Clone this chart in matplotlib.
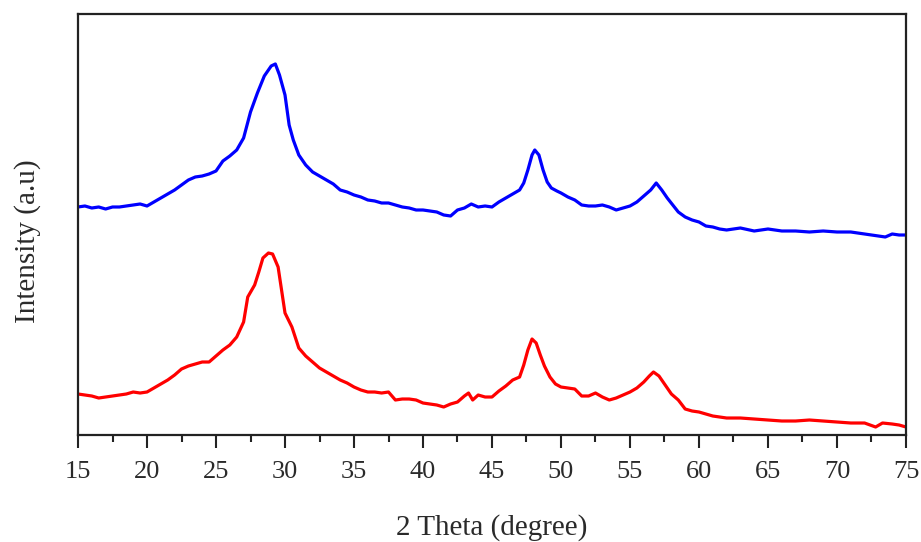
import matplotlib
matplotlib.use("Agg")
import matplotlib.pyplot as plt
from matplotlib.ticker import MultipleLocator

plt.rcParams['font.family'] = ['Liberation Serif', 'DejaVu Serif']

# (2theta, intensity a.u.)
blue_pts = [
    (15.0, 228), (15.5, 229), (16.0, 227), (16.5, 228), (17.0, 226), (17.5, 228),
    (18.0, 228), (18.5, 229), (19.0, 230), (19.5, 231), (20.0, 229), (20.5, 233),
    (21.0, 237), (21.5, 241), (22.0, 245), (22.5, 250), (23.0, 255), (23.5, 258),
    (24.0, 259), (24.5, 261), (25.0, 264), (25.5, 274), (26.0, 279), (26.5, 285),
    (27.0, 297), (27.5, 323), (28.0, 342), (28.5, 359), (29.0, 369), (29.3, 371),
    (29.6, 360), (30.0, 340), (30.3, 310), (30.6, 295), (31.0, 280), (31.5, 270),
    (32.0, 263), (32.5, 259), (33.0, 255), (33.5, 251), (34.0, 245), (34.5, 243),
    (35.0, 240), (35.5, 238), (36.0, 235), (36.5, 234), (37.0, 232), (37.5, 232),
    (38.0, 230), (38.5, 228), (39.0, 227), (39.5, 225), (40.0, 225), (40.5, 224),
    (41.0, 223), (41.5, 220), (42.0, 219), (42.5, 225), (43.0, 227), (43.5, 231),
    (44.0, 228), (44.5, 229), (45.0, 228), (45.5, 233), (46.0, 237), (46.5, 241),
    (47.0, 245), (47.3, 252), (47.6, 265), (47.9, 280), (48.1, 285), (48.4, 280),
    (48.7, 265), (49.0, 253), (49.3, 247), (49.7, 244), (50.0, 242), (50.5, 238),
    (51.0, 235), (51.5, 230), (52.0, 229), (52.5, 229), (53.0, 230), (53.5, 228),
    (54.0, 225), (54.5, 227), (55.0, 229), (55.5, 233), (56.0, 239), (56.5, 245),
    (56.9, 252), (57.3, 245), (57.7, 237), (58.1, 230), (58.5, 223), (59.0, 218),
    (59.5, 215), (60.0, 213), (60.5, 209), (61.0, 208), (61.5, 206), (62.0, 205),
    (63.0, 207), (64.0, 204), (65.0, 206), (66.0, 204), (67.0, 204), (68.0, 203),
    (69.0, 204), (70.0, 203), (71.0, 203), (72.0, 201), (73.0, 199), (73.5, 198),
    (74.0, 201), (74.5, 200), (75.0, 200),
]

red_pts = [
    (15.0, 41), (15.5, 40), (16.0, 39), (16.5, 37), (17.0, 38), (17.5, 39),
    (18.0, 40), (18.5, 41), (19.0, 43), (19.5, 42), (20.0, 43), (20.5, 47),
    (21.0, 51), (21.5, 55), (22.0, 60), (22.5, 66), (23.0, 69), (23.5, 71),
    (24.0, 73), (24.5, 73), (25.0, 79), (25.5, 85), (26.0, 90), (26.5, 98),
    (27.0, 113), (27.3, 138), (27.8, 150), (28.1, 163), (28.4, 177), (28.8, 182),
    (29.1, 181), (29.5, 168), (30.0, 122), (30.5, 108), (31.0, 87), (31.5, 79),
    (32.0, 73), (32.5, 67), (33.0, 63), (33.5, 59), (34.0, 55), (34.5, 52),
    (35.0, 48), (35.5, 45), (36.0, 43), (36.5, 43), (37.0, 42), (37.5, 43),
    (38.0, 35), (38.5, 36), (39.0, 36), (39.5, 35), (40.0, 32), (40.5, 31),
    (41.0, 30), (41.5, 28), (42.0, 31), (42.5, 33), (43.0, 39), (43.3, 42),
    (43.6, 35), (44.0, 40), (44.5, 38), (45.0, 38), (45.5, 44), (46.0, 49),
    (46.5, 55), (47.0, 58), (47.3, 70), (47.6, 85), (47.9, 96), (48.2, 92),
    (48.5, 80), (48.8, 69), (49.2, 58), (49.6, 51), (50.0, 48), (50.5, 47),
    (51.0, 46), (51.5, 39), (52.0, 39), (52.5, 42), (53.0, 38), (53.5, 35),
    (54.0, 37), (54.5, 40), (55.0, 43), (55.5, 47), (56.0, 53), (56.4, 59),
    (56.7, 63), (57.1, 59), (57.5, 51), (58.0, 41), (58.5, 35), (59.0, 26),
    (59.5, 24), (60.0, 23), (60.5, 21), (61.0, 19), (62.0, 17), (63.0, 17),
    (64.0, 16), (65.0, 15), (66.0, 14), (67.0, 14), (68.0, 15), (69.0, 14),
    (70.0, 13), (71.0, 12), (72.0, 12), (72.8, 8), (73.3, 12), (74.0, 11),
    (74.5, 10), (75.0, 8),
]

xticks = [15, 20, 25, 30, 35, 40, 45, 50, 55, 60, 65, 70, 75]

fig = plt.figure(figsize=(9.21, 5.42), dpi=100)
ax = fig.add_axes([0.0847, 0.1974, 0.899, 0.7768])

bx, by = zip(*blue_pts)
rx, ry = zip(*red_pts)
ax.plot(bx, by, color='#0000ff', lw=2.3)
ax.plot(rx, ry, color='#ff0000', lw=2.3)

ax.set_xlim(15, 75)
ax.set_ylim(0, 421)
ax.set_xticks(xticks)
ax.xaxis.set_minor_locator(MultipleLocator(2.5))
ax.set_yticks([])

for s in ax.spines.values():
    s.set_linewidth(1.6)
    s.set_color('#222222')

txt = '#2a2a2a'
ax.tick_params(axis='x', which='major', direction='out', length=9, width=1.5,
               labelsize=19, pad=10, colors='#222222', labelcolor=txt)
ax.tick_params(axis='x', which='minor', direction='out', length=5, width=1.5,
               colors='#222222')

ax.set_xlabel('2 Theta (degree)', fontsize=21, color=txt, labelpad=22)
ax.set_ylabel('Intensity (a.u)', fontsize=21, color=txt)
ax.yaxis.set_label_coords(-0.045, 0.46)

fig.savefig('out.png', dpi=100)
